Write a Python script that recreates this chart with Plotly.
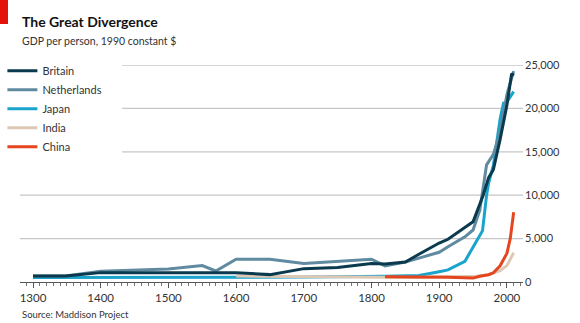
import plotly.graph_objects as go

FONT = "Lato"

# ---- data ----
britain_years = [1300, 1348, 1400, 1500, 1600, 1650, 1700, 1750, 1800, 1820, 1850, 1870, 1900, 1913, 1938, 1950, 1965, 1973, 1980, 1990, 2000, 2007, 2010]
britain_vals = [700, 700, 1080, 1110, 1080, 850, 1540, 1660, 2120, 2080, 2300, 3190, 4490, 4920, 6350, 6940, 10000, 12020, 12930, 16430, 20350, 24000, 23780]

neth_years = [1300, 1348, 1400, 1500, 1550, 1570, 1600, 1650, 1700, 1750, 1800, 1820, 1850, 1870, 1900, 1913, 1938, 1950, 1960, 1970, 1980, 1990, 2000, 2010]
neth_vals = [700, 700, 1230, 1500, 1890, 1270, 2620, 2620, 2120, 2400, 2620, 1850, 2310, 2750, 3420, 4050, 5200, 5990, 8290, 13500, 14700, 17260, 21600, 24300]

japan_years = [1300, 1600, 1700, 1820, 1870, 1900, 1913, 1938, 1964, 1970, 1973, 1980, 1990, 1995, 2000, 2010]
japan_vals = [520, 520, 570, 670, 740, 1180, 1390, 2390, 5890, 10000, 11400, 13430, 18790, 20600, 20740, 21940]

india_years = [1600, 1700, 1820, 1870, 1900, 1950, 1973, 1990, 2000, 2010]
india_vals = [680, 600, 560, 530, 600, 620, 850, 1310, 1890, 3370]

china_years = [1820, 1850, 1870, 1900, 1913, 1950, 1960, 1973, 1980, 1990, 1995, 2000, 2005, 2010]
china_vals = [600, 600, 530, 545, 550, 450, 660, 840, 1060, 1870, 2650, 3300, 5000, 8030]

y_ticks = [0, 5000, 10000, 15000, 20000, 25000]
x_ticks = [1300, 1400, 1500, 1600, 1700, 1800, 1900, 2000]

# ---- styles ----
colors = {
    "Britain": "#0b3a4e",
    "Netherlands": "#5f8aa0",
    "Japan": "#1aa3cc",
    "India": "#dcc8b4",
    "China": "#e5461f",
}
rank = {"Britain": 1, "Netherlands": 2, "Japan": 3, "India": 4, "China": 5}

series = [
    ("Japan", japan_years, japan_vals),
    ("India", india_years, india_vals),
    ("China", china_years, china_vals),
    ("Netherlands", neth_years, neth_vals),
    ("Britain", britain_years, britain_vals),
]

fig = go.Figure()
for name, xs, ys in series:
    fig.add_trace(go.Scatter(
        x=xs, y=ys, name=name, mode="lines",
        line=dict(color=colors[name], width=3),
        legendrank=rank[name],
        hoverinfo="skip",
    ))

# gridlines (shortened where the legend sits)
for v in y_ticks[1:]:
    fig.add_shape(type="line", xref="paper", yref="y",
                  x0=0.203 if v >= 15000 else 0, x1=1, y0=v, y1=v,
                  line=dict(color="#c6c6c6", width=1.3), layer="below")

fig.update_layout(
    width=580, height=323,
    margin=dict(l=20, r=57, t=65, b=41, autoexpand=False),
    paper_bgcolor="white", plot_bgcolor="white",
    font=dict(family=FONT, color="#333333", size=11),
    showlegend=True,
    legend=dict(x=-0.035, y=1.04, xanchor="left", yanchor="top",
                bgcolor="rgba(0,0,0,0)", font=dict(size=11, color="#333333"),
                itemwidth=30, tracegroupgap=0),
    xaxis=dict(range=[1280.8, 2023.8], tickvals=x_ticks, ticks="outside",
               ticklen=5, tickcolor="#555555", showline=True, linecolor="#555555",
               linewidth=1.2, showgrid=False, zeroline=False,
               tickfont=dict(size=11.5, color="#333333"),
               minor=dict(dtick=10, tick0=1300, ticks="outside", ticklen=3,
                          tickcolor="#777777", showgrid=False)),
    yaxis=dict(range=[0, 25000], side="right", tickvals=y_ticks,
               tickformat=",", showgrid=False, zeroline=False, ticks="",
               ticklabelstandoff=1,
               tickfont=dict(size=11, color="#333333")),
)

fig.add_shape(type="rect", xref="paper", yref="paper",
              x0=-20/503, x1=-12/503, y0=1 + 41/217, y1=1 + 65/217,
              fillcolor="#e3120b", line=dict(width=0))

fig.add_annotation(text="<b>The Great Divergence</b>", xref="paper", yref="paper",
                   x=0, y=1 + (65 - 21) / 217, xanchor="left", yanchor="middle",
                   showarrow=False, font=dict(size=14, color="#111111", family=FONT))
fig.add_annotation(text="GDP per person, 1990 constant $", xref="paper", yref="paper",
                   x=0, y=1 + (65 - 41) / 217, xanchor="left", yanchor="middle",
                   showarrow=False, font=dict(size=10.5, color="#333333", family=FONT))
fig.add_annotation(text="Source: Maddison Project", xref="paper", yref="paper",
                   x=0, y=-(314 - 282) / 217, xanchor="left", yanchor="middle",
                   showarrow=False, font=dict(size=9.5, color="#333333", family=FONT))

fig.write_html("out.html")
